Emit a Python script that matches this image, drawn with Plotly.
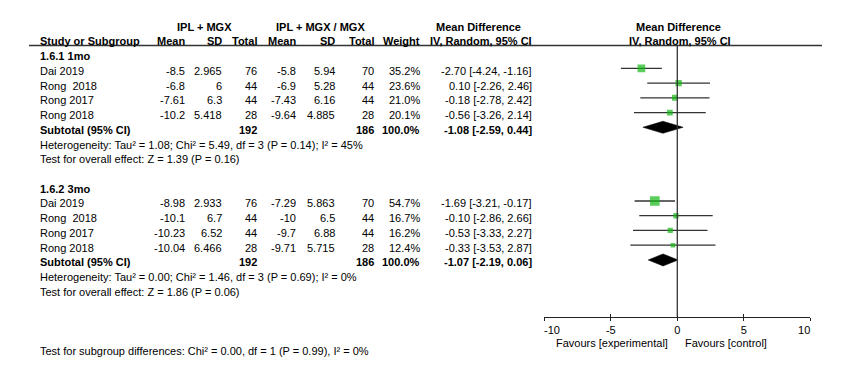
import plotly.graph_objects as go

# ---------------- data ----------------
studies_1 = ["Dai 2019", "Rong \u00a02018", "Rong 2017", "Rong 2018"]
exp_mean_1 = [-8.5, -6.8, -7.61, -10.2]
exp_sd_1 = [2.965, 6, 6.3, 5.418]
exp_n_1 = [76, 44, 44, 28]
ctl_mean_1 = [-5.8, -6.9, -7.43, -9.64]
ctl_sd_1 = [5.94, 5.28, 6.16, 4.885]
ctl_n_1 = [70, 44, 44, 28]
weight_1 = [35.2, 23.6, 21.0, 20.1]
md_1 = [-2.70, 0.10, -0.18, -0.56]
lo_1 = [-4.24, -2.26, -2.78, -3.26]
hi_1 = [-1.16, 2.46, 2.42, 2.14]
sub_1 = [-1.08, -2.59, 0.44]
sub_n_1 = [192, 186]

studies_2 = ["Dai 2019", "Rong \u00a02018", "Rong 2017", "Rong 2018"]
exp_mean_2 = [-8.98, -10.1, -10.23, -10.04]
exp_sd_2 = [2.933, 6.7, 6.52, 6.466]
exp_n_2 = [76, 44, 44, 28]
ctl_mean_2 = [-7.29, -10, -9.7, -9.71]
ctl_sd_2 = [5.863, 6.5, 6.88, 5.715]
ctl_n_2 = [70, 44, 44, 28]
weight_2 = [54.7, 16.7, 16.2, 12.4]
md_2 = [-1.69, -0.10, -0.53, -0.33]
lo_2 = [-3.21, -2.86, -3.33, -3.53]
hi_2 = [-0.17, 2.66, 2.27, 2.87]
sub_2 = [-1.07, -2.19, 0.06]
sub_n_2 = [192, 186]

subgroup_names = ["1.6.1 1mo", "1.6.2 3mo"]
het_texts = ["Heterogeneity: Tau² = 1.08; Chi² = 5.49, df = 3 (P = 0.14); I² = 45%",
             "Heterogeneity: Tau² = 0.00; Chi² = 1.46, df = 3 (P = 0.69); I² = 0%"]
effect_texts = ["Test for overall effect: Z = 1.39 (P = 0.16)",
                "Test for overall effect: Z = 1.86 (P = 0.06)"]
subgroup_diff_text = "Test for subgroup differences: Chi² = 0.00, df = 1 (P = 0.99), I² = 0%"

x_ticks = [-10, -5, 0, 5, 10]
x_tick_labels = ["-10", "-5", "0", "5", "10"]
favours = ["Favours [experimental]", "Favours [control]"]

# ---------------- layout helpers ----------------
W, H = 850, 374
FONT = "Liberation Sans, Arial, sans-serif"
FS = 11
Y0, DY = 24.1, 14.74          # pixel of line 0, pixel per line
TXT_SHIFT = -2.5              # text sits slightly lower than marks
NB = "\u00a0"


def px(x):
    return x / W


def fmt(v):
    return f"{v:g}"


annotations = []


def txt(x, line, s, anchor="right", bold=False, size=FS):
    if bold:
        s = f"<b>{s}</b>"
    annotations.append(dict(x=px(x), xref="paper", y=line, yref="y", text=s,
                            xanchor=anchor, yanchor="middle", yshift=TXT_SHIFT,
                            showarrow=False, font=dict(family=FONT, size=size, color="#000")))


# column right edges (px)
C_MEAN1, C_SD1, C_N1 = 187, 224, 259
C_MEAN2, C_SD2, C_N2 = 298, 337, 376
C_W, C_CI = 422, 534
C_STUDY = 38

# headers
txt(204, 0, "IPL + MGX", "center", True)
txt(320, 0, "IPL + MGX / MGX", "center", True)
txt(478, 0, "Mean Difference", "center", True)
txt(678, 0, "Mean Difference", "center", True)
txt(C_STUDY, 1, "Study or Subgroup", "left", True)
txt(C_MEAN1, 1, "Mean", bold=True)
txt(C_SD1, 1, "SD", bold=True)
txt(C_N1, 1, "Total", bold=True)
txt(C_MEAN2, 1, "Mean", bold=True)
txt(C_SD2, 1, "SD", bold=True)
txt(C_N2, 1, "Total", bold=True)
txt(C_W, 1, "Weight", bold=True)
txt(C_CI, 1, "IV, Random, 95% CI", bold=True)
txt(680, 1, "IV, Random, 95% CI", "center", True)

groups = [
    (studies_1, exp_mean_1, exp_sd_1, exp_n_1, ctl_mean_1, ctl_sd_1, ctl_n_1,
     weight_1, md_1, lo_1, hi_1, sub_1, sub_n_1, 2),
    (studies_2, exp_mean_2, exp_sd_2, exp_n_2, ctl_mean_2, ctl_sd_2, ctl_n_2,
     weight_2, md_2, lo_2, hi_2, sub_2, sub_n_2, 11),
]

fig = go.Figure()

for gi, (st, em, es, en, cm, cs, cn, wt, md, lo, hi, sub, subn, start) in enumerate(groups):
    txt(C_STUDY, start, subgroup_names[gi], "left", True)
    rows = [start + 1 + i for i in range(len(st))]
    for i, r in enumerate(rows):
        txt(C_STUDY, r, st[i], "left")
        txt(C_MEAN1, r, fmt(em[i]))
        txt(C_SD1, r, fmt(es[i]))
        txt(C_N1, r, str(en[i]))
        txt(C_MEAN2, r, fmt(cm[i]))
        txt(C_SD2, r, fmt(cs[i]))
        txt(C_N2, r, str(cn[i]))
        txt(C_W, r, f"{wt[i]:.1f}%")
        txt(C_CI, r, f"{md[i]:.2f} [{lo[i]:.2f}, {hi[i]:.2f}]")
    sr = rows[-1] + 1
    txt(C_STUDY, sr, "Subtotal (95% CI)", "left", True)
    txt(C_N1, sr, str(subn[0]), bold=True)
    txt(C_N2, sr, str(subn[1]), bold=True)
    txt(C_W, sr, "100.0%", bold=True)
    txt(C_CI, sr, f"{sub[0]:.2f} [{sub[1]:.2f}, {sub[2]:.2f}]", bold=True)
    txt(C_STUDY, sr + 1, het_texts[gi], "left")
    txt(C_STUDY, sr + 2, effect_texts[gi], "left")

    # CI lines
    cx, cy = [], []
    for i, r in enumerate(rows):
        cx += [lo[i], hi[i], None]
        cy += [r, r, None]
    fig.add_trace(go.Scatter(x=cx, y=cy, mode="lines",
                             line=dict(color="#333333", width=1.3),
                             hoverinfo="skip", showlegend=False))
    # squares
    fig.add_trace(go.Scatter(x=md, y=rows, mode="markers",
                             marker=dict(symbol="square", color="#14b814",
                                         size=[max(4.0, 1.3 * w ** 0.5) for w in wt],
                                         line=dict(width=0)),
                             showlegend=False))
    # diamond
    h = 0.41
    fig.add_trace(go.Scatter(x=[sub[1], sub[0], sub[2], sub[0], sub[1]],
                             y=[sr, sr - h, sr, sr + h, sr],
                             mode="lines", fill="toself", fillcolor="#000000",
                             line=dict(color="#000000", width=0.5),
                             hoverinfo="skip", showlegend=False))

txt(C_STUDY, 22, subgroup_diff_text, "left")

# favours labels
AXIS_PX = 316.7
annotations.append(dict(x=px(669.5), xref="paper", y=1 - 343.3 / H, yref="paper",
                        text=favours[0], xanchor="right", yanchor="middle", showarrow=False,
                        font=dict(family=FONT, size=FS, color="#000")))
annotations.append(dict(x=px(682.5), xref="paper", y=1 - 343.3 / H, yref="paper",
                        text=favours[1], xanchor="left", yanchor="middle", showarrow=False,
                        font=dict(family=FONT, size=FS, color="#000")))

shapes = [
    # header rule
    dict(type="line", xref="paper", yref="paper", x0=px(29), x1=px(822),
         y0=1 - 45.5 / H, y1=1 - 45.5 / H, line=dict(color="#333333", width=1.3)),
    # line of no effect
    dict(type="line", xref="x", yref="paper", x0=0, x1=0,
         y0=1 - 45.5 / H, y1=1 - AXIS_PX / H, line=dict(color="#333333", width=1.3)),
]

# end labels sit inside the axis span, as in RevMan
tick_text = list(x_tick_labels)
tick_text[0] = NB * 5 + tick_text[0]
tick_text[-1] = tick_text[-1] + NB * 4

dom = [544.3 / W, 810.3 / W]
pos = 1 - AXIS_PX / H
fig.update_layout(
    width=W, height=H, margin=dict(l=0, r=0, t=0, b=0, autoexpand=False),
    paper_bgcolor="white", plot_bgcolor="white", showlegend=False,
    annotations=annotations, shapes=shapes,
    xaxis=dict(domain=dom, range=[-10, 10], anchor="free", position=pos,
               showline=True, linecolor="#222222", linewidth=1.3,
               ticks="outside", ticklen=3, tickwidth=1.3, tickcolor="#222222",
               tickvals=x_ticks, ticktext=tick_text, automargin=False,
               tickfont=dict(family=FONT, size=FS, color="#000"),
               showgrid=False, zeroline=False, fixedrange=True),
    xaxis2=dict(domain=dom, range=[-10, 10], overlaying="x", anchor="free", position=pos,
                showline=False, ticks="inside", ticklen=3, tickwidth=1.3, tickcolor="#222222",
                tickvals=x_ticks, showticklabels=False, showgrid=False, zeroline=False),
    yaxis=dict(domain=[0, 1], range=[(H - Y0) / DY, -Y0 / DY], visible=False,
               showgrid=False, zeroline=False),
)
# invisible trace so that the second (inner-tick) axis is drawn
fig.add_trace(go.Scatter(x=[0], y=[0], xaxis="x2", mode="markers",
                         marker=dict(opacity=0), hoverinfo="skip", showlegend=False))

fig.write_html("out.html", config={"displayModeBar": False},
               post_script="document.body.style.margin='0';document.body.style.overflow='hidden';")
